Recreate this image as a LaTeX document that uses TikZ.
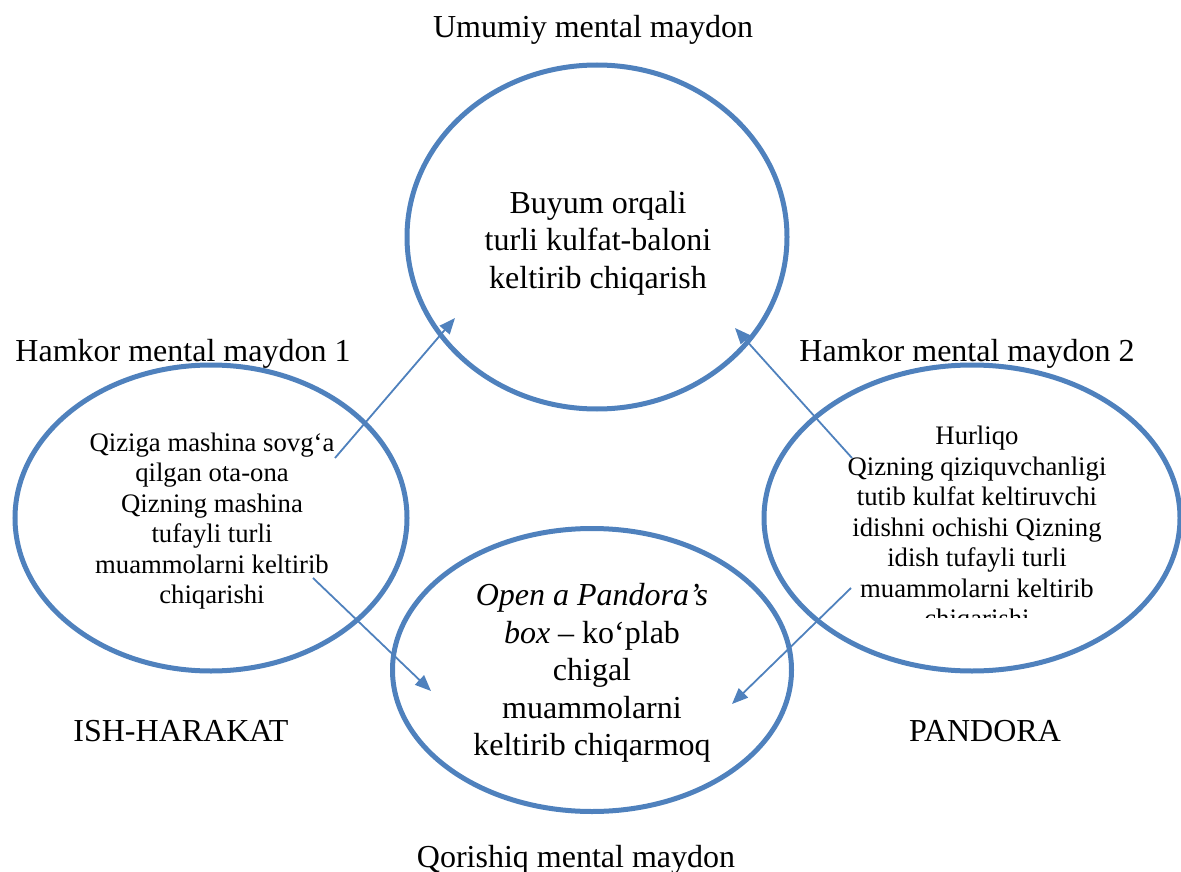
\documentclass[tikz,border=0pt]{standalone}
\usepackage{fontspec}
\setmainfont{Liberation Serif}
\usetikzlibrary{arrows.meta,shapes.geometric}
\definecolor{ovalblue}{HTML}{4F81BD}
\begin{document}
\begin{tikzpicture}[x=1pt,y=-1pt,
  oval/.style={draw=ovalblue, line width=5pt, ellipse, inner sep=0pt},
  bigtxt/.style={align=center, inner sep=0pt, font=\fontsize{32}{37.5}\selectfont},
  smalltxt/.style={align=center, inner sep=0pt, font=\fontsize{26.7}{30.5}\selectfont},
  lbl/.style={anchor=base, inner sep=0pt, font=\fontsize{32}{38}\selectfont},
  conn/.style={draw=ovalblue, line width=1.8pt, -{Triangle[length=16pt,width=13pt]}}
]
\useasboundingbox (0,0) rectangle (1181,872);
% ellipses
\node[oval, minimum width=380pt, minimum height=344pt] (top) at (597,237) {};
\node[oval, minimum width=392pt, minimum height=306pt] (left) at (211,518) {};
\node[oval, minimum width=416pt, minimum height=306pt] (right) at (972,518) {};
\node[oval, minimum width=399pt, minimum height=283pt] (bottom) at (592,670) {};
% ellipse texts
\node[bigtxt] (toptxt) at (598,243) {Buyum orqali\\turli kulfat-baloni\\keltirib chiqarish};
\node[smalltxt] (lefttxt) at (212,521) {Qiziga mashina sovg‘a\\qilgan ota-ona\\Qizning mashina\\tufayli turli\\muammolarni keltirib\\chiqarishi};
\begin{scope}
\clip (760,380) rectangle (1181,617);
\node[smalltxt] (righttxt) at (977,530) {Hurliqo\\Qizning qiziquvchanligi\\tutib kulfat keltiruvchi\\idishni ochishi Qizning\\idish tufayli turli\\muammolarni keltirib\\chiqarishi};
\end{scope}
\node[bigtxt] (bottxt) at (592,673) {\textit{Open a Pandora’s}\\\textit{box} – ko‘plab\\chigal\\muammolarni\\keltirib chiqarmoq};
% labels
\node[lbl] (lumumiy) at (593,38) {Umumiy mental maydon};
\node[lbl] (lhamkor1) at (183,361) {Hamkor mental maydon 1};
\node[lbl] (lhamkor2) at (967,361) {Hamkor mental maydon 2};
\node[lbl] (lish) at (181,741) {ISH-HARAKAT};
\node[lbl] (lpandora) at (985,741) {PANDORA};
\node[lbl] (lqorishiq) at (576,867) {Qorishiq mental maydon};
% connector ends
\coordinate (a1s) at (335,458);
\coordinate (a1e) at (455,318);
\coordinate (a2s) at (852,458);
\coordinate (a2e) at (735,328);
\coordinate (a3s) at (313,578);
\coordinate (a3e) at (431,691);
\coordinate (a4s) at (851,588);
\coordinate (a4e) at (732,704);
\draw[conn] (a1s) -- (a1e);
\draw[conn] (a2s) -- (a2e);
\draw[conn] (a3s) -- (a3e);
\draw[conn] (a4s) -- (a4e);
\end{tikzpicture}
\end{document}
